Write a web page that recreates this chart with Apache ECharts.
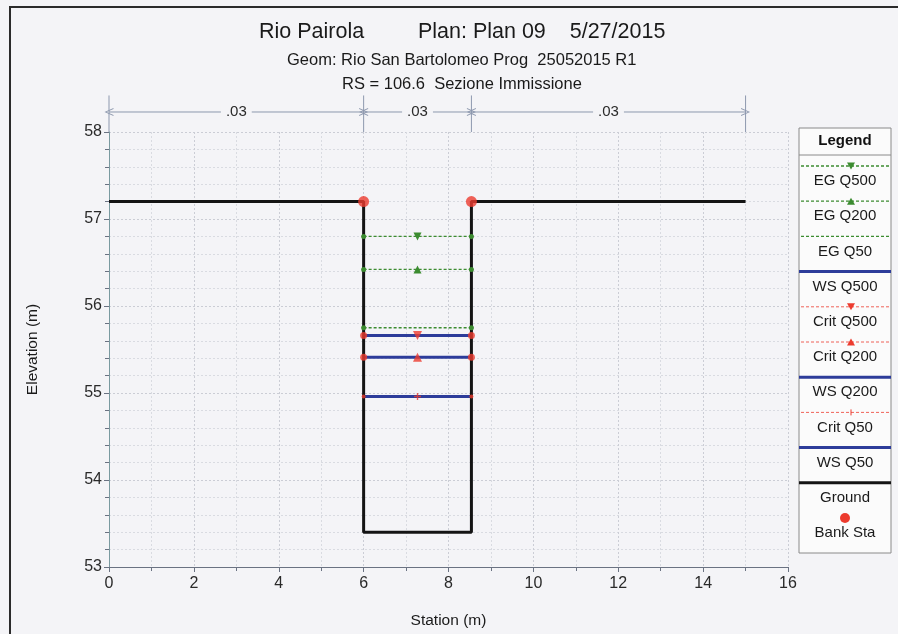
<!DOCTYPE html>
<html><head><meta charset="utf-8">
<script src="https://cdn.jsdelivr.net/npm/echarts@6/dist/echarts.min.js"></script>
<style>html,body{margin:0;padding:0;background:#f4f4f7}#c{width:898px;height:634px}</style>
</head><body><div id="c"></div>
<script>
// ---- data ----
const groundStation = [0, 6, 6, 8.54, 8.54, 15];
const groundElev = [57.2, 57.2, 53.4, 53.4, 57.2, 57.2];
const bankStation = [6, 8.54];
const bankElev = [57.2, 57.2];
const profileStation = [6, 7.27, 8.54];
const profileNames = ['EG Q500', 'EG Q200', 'EG Q50', 'WS Q500', 'Crit Q500', 'Crit Q200', 'WS Q200', 'Crit Q50', 'WS Q50'];
const profileElev = [56.80, 56.42, 55.75, 55.66, 55.66, 55.41, 55.41, 54.96, 54.96];
const nStations = [0, 6, 8.54, 15];
const nLabelStation = [3, 7.27, 11.77];
const nValues = ['.03', '.03', '.03'];
const nArrowElev = 58.23;
const nTickTop = 58.42;
const nTickBottom = 58.0;
const legendNames = ['EG Q500', 'EG Q200', 'EG Q50', 'WS Q500', 'Crit Q500', 'Crit Q200', 'WS Q200', 'Crit Q50', 'WS Q50', 'Ground', 'Bank Sta'];
const titleMain = 'Rio Pairola         Plan: Plan 09    5/27/2015';
const titleGeom = 'Geom: Rio San Bartolomeo Prog  25052015 R1';
const titleRS = 'RS = 106.6  Sezione Immissione';

// ---- styles ----
const BG = '#f4f4f7';
const GREEN = '#3c8c30', RED = '#ec3b2e', BLUE = '#2d3c9a', BLACK = '#141414', NCOL = '#8d98ae';
const FONT = '"Liberation Sans", Arial, sans-serif';
const PLUS = 'path://M4,0H6V4H10V6H6V10H4V6H0V4H4Z';
const CHEV = 'path://M0,10 L5,0 L10,10 L8.8,10 L5,2.4 L1.2,10 Z';
function midMarker(name) {
  if (name.endsWith('Q500') && !name.startsWith('WS')) return {symbol: 'triangle', rotate: 180};
  if (name.endsWith('Q200') && !name.startsWith('WS')) return {symbol: 'triangle', rotate: 0};
  if (name === 'Crit Q50') return {symbol: PLUS, rotate: 0};
  return null;
}

const series = [];
// n-value boundary ticks
const tickData = [];
nStations.forEach(s => { tickData.push([s, nTickTop], [s, nTickBottom], ['-', '-']); });
series.push({type: 'line', name: 'nTicks', data: tickData, clip: false, silent: true, symbol: 'none',
  lineStyle: {color: NCOL, width: 1}, connectNulls: false, z: 1});
// n-value arrows with labels
for (let k = 0; k < nValues.length; k++) {
  series.push({type: 'line', name: 'n' + k, clip: false, silent: true, z: 1,
    lineStyle: {color: NCOL, width: 1}, itemStyle: {color: NCOL},
    data: [
      {value: [nStations[k], nArrowElev], symbol: CHEV, symbolSize: [8, 9], symbolRotate: 90},
      {value: [nLabelStation[k], nArrowElev], symbol: 'circle', symbolSize: 1,
        label: {show: true, position: 'inside', formatter: nValues[k], color: '#2a2a2a', fontSize: 15,
          fontFamily: FONT, backgroundColor: BG, padding: [1, 5]}},
      {value: [nStations[k + 1], nArrowElev], symbol: CHEV, symbolSize: [8, 9], symbolRotate: -90}
    ]});
}
// water profiles
profileNames.forEach((name, i) => {
  const pts = profileStation.map(x => [x, profileElev[i]]);
  const mm = midMarker(name);
  if (name.startsWith('WS')) {
    series.push({type: 'line', name, data: pts, symbol: 'none', lineStyle: {color: BLUE, width: 3}, z: 3});
  } else if (name.startsWith('EG')) {
    series.push({type: 'line', name, z: 6, lineStyle: {color: GREEN, width: 1.3, type: [3, 2]}, itemStyle: {color: GREEN},
      data: pts.map((p, j) => j === 1
        ? (mm ? {value: p, symbol: mm.symbol, symbolSize: 8, symbolRotate: mm.rotate} : {value: p, symbol: 'none'})
        : {value: p, symbol: 'circle', symbolSize: 5})});
  } else {
    series.push({type: 'line', name, data: pts, symbol: 'none', z: 2, lineStyle: {color: RED, width: 1, type: [3, 2]}});
    series.push({type: 'scatter', name: name + ' pts', z: 6, itemStyle: {color: RED},
      data: pts.map((p, j) => j === 1
        ? {value: p, symbol: mm.symbol, symbolSize: mm.symbol === PLUS ? 7 : 9, symbolRotate: mm.rotate}
        : {value: p, symbol: 'circle', symbolSize: name === 'Crit Q50' ? 4 : 7})});
  }
});
// ground
series.push({type: 'line', name: 'Ground', data: groundStation.map((x, i) => [x, groundElev[i]]),
  symbol: 'none', lineStyle: {color: BLACK, width: 3}, z: 5});
// bank stations
series.push({type: 'scatter', name: 'Bank Sta', data: bankStation.map((x, i) => [x, bankElev[i]]),
  symbol: 'circle', symbolSize: 11, itemStyle: {color: RED}, z: 7});

// ---- legend as graphic ----
const LX = 799, LW = 92, LY = 128, LH = 425, STEP = 35.2, LINE0 = 166, TEXT0 = 181;
const lcx = LX + LW / 2;
const graphic = [
  {type: 'rect', shape: {x: 10, y: 7, width: 900, height: 660}, style: {fill: 'none', stroke: '#2b2b2b', lineWidth: 2}, z: 100, silent: true},
  {type: 'rect', shape: {x: LX, y: LY, width: LW, height: LH}, style: {fill: '#fbfbfb', stroke: '#8a8a8a', lineWidth: 1}, z: 100},
  {type: 'text', z: 101, style: {text: 'Legend', x: lcx, y: 141, textAlign: 'center', textVerticalAlign: 'middle', align: 'center', verticalAlign: 'middle', font: 'bold 15px ' + FONT, fill: '#111'}},
  {type: 'line', z: 101, shape: {x1: LX, y1: 155, x2: LX + LW, y2: 155}, style: {stroke: '#8a8a8a', lineWidth: 1}}
];
function tri(cx, cy, down, color) {
  const pts = down ? [[cx - 4, cy - 3.5], [cx + 4, cy - 3.5], [cx, cy + 3.5]] : [[cx - 4, cy + 3.5], [cx + 4, cy + 3.5], [cx, cy - 3.5]];
  return {type: 'polygon', z: 102, shape: {points: pts}, style: {fill: color}};
}
legendNames.forEach((name, i) => {
  const ly = LINE0 + i * STEP, ty = TEXT0 + i * STEP;
  const mx = lcx + 6;
  if (name.startsWith('EG')) {
    graphic.push({type: 'line', z: 101, shape: {x1: LX + 2, y1: ly, x2: LX + LW - 2, y2: ly}, style: {stroke: GREEN, lineWidth: 1.3, lineDash: [3, 2]}});
    if (name.endsWith('Q500')) graphic.push(tri(mx, ly, true, GREEN));
    if (name.endsWith('Q200')) graphic.push(tri(mx, ly, false, GREEN));
  } else if (name.startsWith('Crit')) {
    graphic.push({type: 'line', z: 101, shape: {x1: LX + 2, y1: ly, x2: LX + LW - 2, y2: ly}, style: {stroke: RED, lineWidth: 0.8, lineDash: [3, 2]}});
    if (name.endsWith('Q500')) graphic.push(tri(mx, ly, true, RED));
    if (name.endsWith('Q200')) graphic.push(tri(mx, ly, false, RED));
    if (name.endsWith('Q50')) graphic.push({type: 'line', z: 102, shape: {x1: mx, y1: ly - 3, x2: mx, y2: ly + 3}, style: {stroke: RED, lineWidth: 1}});
  } else if (name.startsWith('WS')) {
    graphic.push({type: 'line', z: 101, shape: {x1: LX, y1: ly, x2: LX + LW, y2: ly}, style: {stroke: BLUE, lineWidth: 3}});
  } else if (name === 'Ground') {
    graphic.push({type: 'line', z: 101, shape: {x1: LX, y1: ly, x2: LX + LW, y2: ly}, style: {stroke: BLACK, lineWidth: 3}});
  } else {
    graphic.push({type: 'circle', z: 101, shape: {cx: lcx, cy: ly, r: 5}, style: {fill: RED}});
  }
  graphic.push({type: 'text', z: 101, style: {text: name, x: lcx, y: ty, textAlign: 'center', textVerticalAlign: 'middle', align: 'center', verticalAlign: 'middle', font: '15px ' + FONT, fill: '#1a1a1a'}});
});

const axisLabel = {color: '#2a2a2a', fontSize: 16, fontFamily: FONT};
const majorLine = {show: true, lineStyle: {color: '#cbcdd5', width: 1, type: [2, 2]}};
const minorLine = {show: true, lineStyle: {color: '#d9dbe1', width: 1, type: [2, 2]}};
const option = {
  backgroundColor: BG,
  animation: false,
  title: [
    {text: titleMain, left: 254, top: 16, textStyle: {fontSize: 21.5, fontWeight: 'normal', color: '#1a1a1a', fontFamily: FONT}},
    {text: titleGeom, left: 282, top: 47, textStyle: {fontSize: 16.5, fontWeight: 'normal', color: '#1a1a1a', fontFamily: FONT}},
    {text: titleRS, left: 337, top: 71, textStyle: {fontSize: 16.5, fontWeight: 'normal', color: '#1a1a1a', fontFamily: FONT}}
  ],
  grid: {left: 109, right: 110, top: 132, bottom: 65},
  xAxis: {type: 'value', min: 0, max: 16, interval: 2, name: 'Station (m)', nameLocation: 'middle', nameGap: 46,
    nameTextStyle: {fontSize: 15.5, color: '#1a1a1a', fontFamily: FONT},
    axisLine: {show: true, onZero: false, lineStyle: {color: '#6a7282'}},
    axisTick: {show: true, length: 5, lineStyle: {color: '#6a7282'}},
    minorTick: {show: true, splitNumber: 2, length: 4, lineStyle: {color: '#6a7282'}},
    axisLabel: Object.assign({margin: 9}, axisLabel),
    splitLine: majorLine, minorSplitLine: minorLine},
  yAxis: {type: 'value', min: 53, max: 58, interval: 1, name: 'Elevation (m)', nameLocation: 'middle', nameGap: 68,
    nameTextStyle: {fontSize: 15.5, color: '#1a1a1a', fontFamily: FONT},
    axisLine: {show: true, onZero: false, lineStyle: {color: '#7a9aa0'}},
    axisTick: {show: true, length: 5, lineStyle: {color: '#6a7282'}},
    minorTick: {show: true, splitNumber: 5, length: 4, lineStyle: {color: '#6a7282'}},
    axisLabel: Object.assign({margin: 7}, axisLabel),
    splitLine: majorLine, minorSplitLine: minorLine},
  series,
  graphic
};
const chart = echarts.init(document.getElementById('c'), null, {renderer: 'canvas'});
chart.setOption(option);
</script>
</body></html>
